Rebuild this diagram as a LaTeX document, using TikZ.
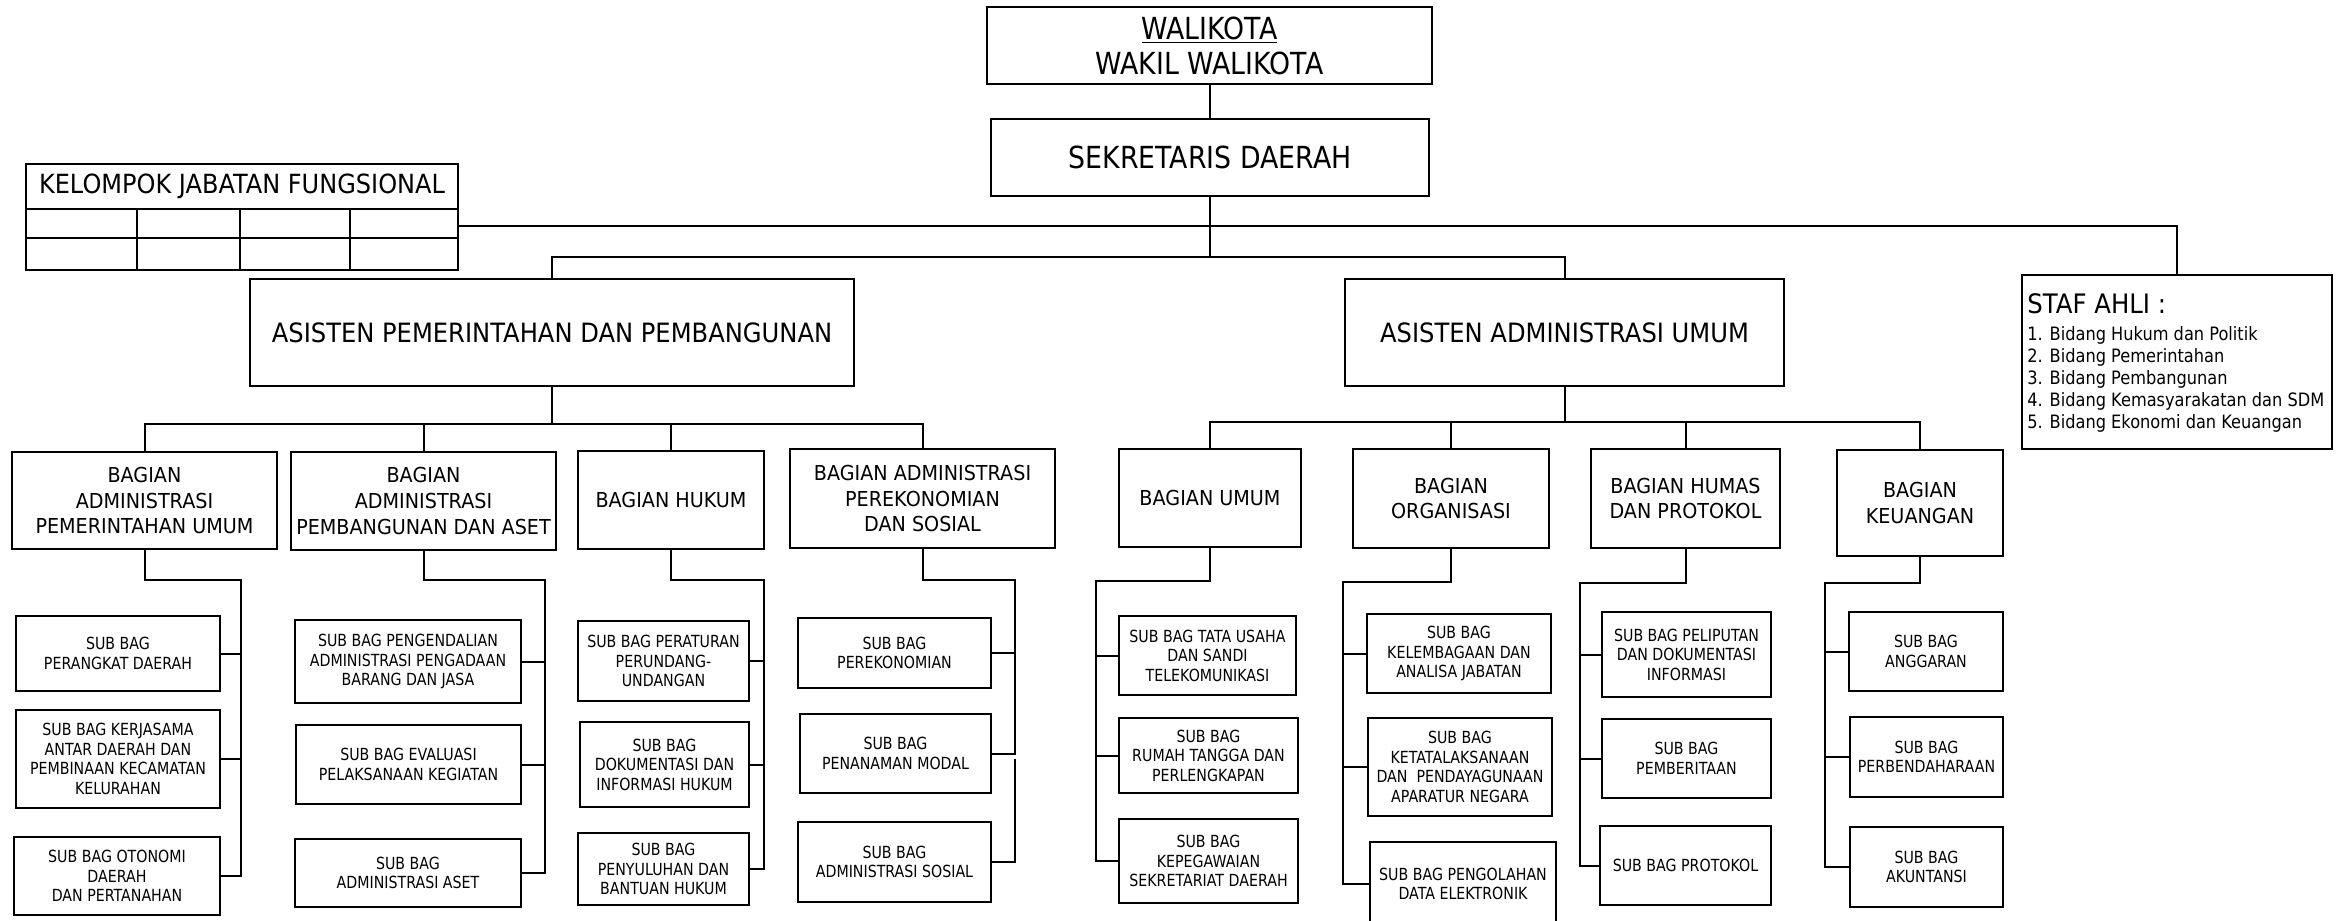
\documentclass[tikz,border=0pt]{standalone}
\usepackage{fontspec}
\setmainfont{DejaVu Sans}
\newfontfamily\topfont{DejaVu Sans}[FakeStretch=0.88]
\newfontfamily\asfont{DejaVu Sans}[FakeStretch=0.91]
\newfontfamily\bagfont{DejaVu Sans}[FakeStretch=0.93]
\newfontfamily\subfont{DejaVu Sans}[FakeStretch=0.85]
\newcommand\ob[7]{\node[#6, minimum width={(#4-(#2))*0.5pt}, minimum height={(#5-(#3))*0.5pt}] (#1) at ({(#2+#4)/2},{(#3+#5)/2}) {#7};}
\tikzset{
  box/.style={draw, line width=1pt, inner sep=0pt, align=center, fill=white},
  topbox/.style={box, font=\topfont\fontsize{15.2pt}{17.5pt}\selectfont},
  asbox/.style={box, font=\asfont\fontsize{13.3pt}{15pt}\selectfont},
  bagbox/.style={box, font=\bagfont\fontsize{10.3pt}{12.9pt}\selectfont},
  subbox/.style={box, font=\subfont\fontsize{8.35pt}{9.75pt}\selectfont},
  conn/.style={line width=1pt},
}
\begin{document}
\begin{tikzpicture}[x=0.5pt,y=-0.5pt]
\useasboundingbox (0,0) rectangle (2336,921);
\fill[white] (0,0) rectangle (2336,921);
% top
\ob{wali}{987}{7}{1432}{84}{topbox}{\underline{WALIKOTA}\\WAKIL WALIKOTA}
\ob{sek}{991}{119}{1429}{196}{topbox}{SEKRETARIS DAERAH}
% kelompok
\ob{kel}{26}{164}{458}{270}{box}{}
\node[font=\asfont\fontsize{13.2pt}{15pt}\selectfont, inner sep=0pt] (keltitle) at (242,186.5) {KELOMPOK JABATAN FUNGSIONAL};
\draw[conn] (26,209) -- (458,209);
\draw[conn] (26,238) -- (458,238);
\draw[conn] (137,209) -- (137,270);
\draw[conn] (240,209) -- (240,270);
\draw[conn] (350,209) -- (350,270);
% staf ahli
\ob{staf}{2022}{275}{2332}{449}{box}{}
\node[font=\asfont\fontsize{13.4pt}{15pt}\selectfont, inner sep=0pt, anchor=base west] (staft) at (2027,313) {STAF AHLI :};
\node[font=\topfont\fontsize{9.2pt}{11pt}\selectfont, inner sep=0pt, anchor=north west, align=left] (stafl) at (2027,326) {1. Bidang Hukum dan Politik\\2. Bidang Pemerintahan\\3. Bidang Pembangunan\\4. Bidang Kemasyarakatan dan SDM\\5. Bidang Ekonomi dan Keuangan};
% asisten
\ob{app}{250}{279}{854}{386}{asbox}{ASISTEN PEMERINTAHAN DAN PEMBANGUNAN}
\ob{aau}{1345}{279}{1784}{386}{asbox}{ASISTEN ADMINISTRASI UMUM}
% bagian PP
\ob{b1}{12}{452}{277}{549}{bagbox}{BAGIAN\\ADMINISTRASI\\PEMERINTAHAN UMUM}
\ob{b2}{291}{452}{556}{550}{bagbox}{BAGIAN\\ADMINISTRASI\\PEMBANGUNAN DAN ASET}
\ob{b3}{578}{451}{764}{549}{bagbox}{BAGIAN HUKUM}
\ob{b4}{790}{449}{1055}{548}{bagbox}{BAGIAN ADMINISTRASI\\PEREKONOMIAN\\DAN SOSIAL}
% bagian AU
\ob{c1}{1119}{449}{1301}{547}{bagbox}{BAGIAN UMUM}
\ob{c2}{1353}{449}{1549}{548}{bagbox}{BAGIAN\\ORGANISASI}
\ob{c3}{1591}{449}{1780}{548}{bagbox}{BAGIAN HUMAS\\DAN PROTOKOL}
\ob{c4}{1837}{450}{2003}{556}{bagbox}{BAGIAN\\KEUANGAN}
% sub bag
\ob{s11}{16}{616}{220}{691}{subbox}{SUB BAG\\PERANGKAT DAERAH}
\ob{s12}{16}{710}{220}{808}{subbox}{SUB BAG KERJASAMA\\ANTAR DAERAH DAN\\PEMBINAAN KECAMATAN\\KELURAHAN}
\ob{s13}{14}{837}{220}{915}{subbox}{SUB BAG OTONOMI\\DAERAH\\DAN PERTANAHAN}
\ob{s21}{295}{620}{521}{703}{subbox}{SUB BAG PENGENDALIAN\\ADMINISTRASI PENGADAAN\\BARANG DAN JASA}
\ob{s22}{296}{725}{521}{804}{subbox}{SUB BAG EVALUASI\\PELAKSANAAN KEGIATAN}
\ob{s23}{295}{839}{521}{907}{subbox}{SUB BAG\\ADMINISTRASI ASET}
\ob{s31}{578}{621}{749}{701}{subbox}{SUB BAG PERATURAN\\PERUNDANG-\\UNDANGAN}
\ob{s32}{580}{722}{749}{807}{subbox}{SUB BAG\\DOKUMENTASI DAN\\INFORMASI HUKUM}
\ob{s33}{578}{833}{749}{905}{subbox}{SUB BAG\\PENYULUHAN DAN\\BANTUAN HUKUM}
\ob{s41}{798}{618}{991}{688}{subbox}{SUB BAG\\PEREKONOMIAN}
\ob{s42}{800}{714}{991}{793}{subbox}{SUB BAG\\PENANAMAN MODAL}
\ob{s43}{798}{822}{991}{902}{subbox}{SUB BAG\\ADMINISTRASI SOSIAL}
\ob{s51}{1119}{616}{1296}{695}{subbox}{SUB BAG TATA USAHA\\DAN SANDI\\TELEKOMUNIKASI}
\ob{s52}{1119}{718}{1298}{793}{subbox}{SUB BAG\\RUMAH TANGGA DAN\\PERLENGKAPAN}
\ob{s53}{1119}{819}{1298}{903}{subbox}{SUB BAG\\KEPEGAWAIAN\\SEKRETARIAT DAERAH}
\ob{s61}{1367}{614}{1551}{693}{subbox}{SUB BAG\\KELEMBAGAAN DAN\\ANALISA JABATAN}
\ob{s62}{1368}{718}{1552}{816}{subbox}{SUB BAG\\KETATALAKSANAAN\\DAN\ \ PENDAYAGUNAAN\\APARATUR NEGARA}
\ob{s63}{1370}{842}{1556}{926}{subbox}{SUB BAG PENGOLAHAN\\DATA ELEKTRONIK}
\ob{s71}{1602}{612}{1771}{697}{subbox}{SUB BAG PELIPUTAN\\DAN DOKUMENTASI\\INFORMASI}
\ob{s72}{1602}{719}{1771}{798}{subbox}{SUB BAG\\PEMBERITAAN}
\ob{s73}{1600}{826}{1771}{905}{subbox}{SUB BAG PROTOKOL}
\ob{s81}{1849}{612}{2003}{691}{subbox}{SUB BAG\\ANGGARAN}
\ob{s82}{1850}{717}{2003}{797}{subbox}{SUB BAG\\PERBENDAHARAAN}
\ob{s83}{1850}{827}{2003}{907}{subbox}{SUB BAG\\AKUNTANSI}
% connectors top
\coordinate (kj) at (1210,226);
\coordinate (bus) at (1210,257);
\coordinate (ppb) at (552,424);
\coordinate (aub) at (1565,422);
\draw[conn] (wali.south) -- (wali.south |- sek.north);
\draw[conn] (sek.south) -- (sek.south |- bus);
\draw[conn] (kel.east |- kj) -| (staf.north);
\draw[conn] (app.north) |- (bus) -| (aau.north);
\draw[conn] (app.south) -- (app.south |- ppb);
\draw[conn] (b1.north) |- (ppb) -| (b4.north);
\draw[conn] (b2.north) -- (b2.north |- ppb);
\draw[conn] (b3.north) -- (b3.north |- ppb);
\draw[conn] (aau.south) -- (aau.south |- aub);
\draw[conn] (c1.north) |- (aub) -| (c4.north);
\draw[conn] (c2.north) -- (c2.north |- aub);
\draw[conn] (c3.north) -- (c3.north |- aub);
% group rails
\coordinate (r1) at (241,580);
\coordinate (r2) at (545,580);
\coordinate (r3) at (764,580);
\coordinate (r4) at (1015,580);
\coordinate (r4b) at (1015,759);
\coordinate (r5) at (1096,581);
\coordinate (r6) at (1343,582);
\coordinate (r7) at (1580,583);
\coordinate (r8) at (1825,583);
\draw[conn] (b1.south) |- (r1) |- (s13.east);
\draw[conn] (s11.east) -- (s11.east -| r1);
\draw[conn] (s12.east) -- (s12.east -| r1);
\draw[conn] (b2.south) |- (r2) |- (s23.east);
\draw[conn] (s21.east) -- (s21.east -| r2);
\draw[conn] (s22.east) -- (s22.east -| r2);
\draw[conn] (b3.south) |- (r3) |- (s33.east);
\draw[conn] (s31.east) -- (s31.east -| r3);
\draw[conn] (s32.east) -- (s32.east -| r3);
\draw[conn] (b4.south) |- (r4) |- (s42.east);
\draw[conn] (s41.east) -- (s41.east -| r4);
\draw[conn] (r4b) |- (s43.east);
\draw[conn] (c1.south) |- (r5) |- (s53.west);
\draw[conn] (s51.west) -- (s51.west -| r5);
\draw[conn] (s52.west) -- (s52.west -| r5);
\draw[conn] (c2.south) |- (r6) |- (s63.west);
\draw[conn] (s61.west) -- (s61.west -| r6);
\draw[conn] (s62.west) -- (s62.west -| r6);
\draw[conn] (c3.south) |- (r7) |- (s73.west);
\draw[conn] (s71.west) -- (s71.west -| r7);
\draw[conn] (s72.west) -- (s72.west -| r7);
\draw[conn] (c4.south) |- (r8) |- (s83.west);
\draw[conn] (s81.west) -- (s81.west -| r8);
\draw[conn] (s82.west) -- (s82.west -| r8);
\end{tikzpicture}
\end{document}
